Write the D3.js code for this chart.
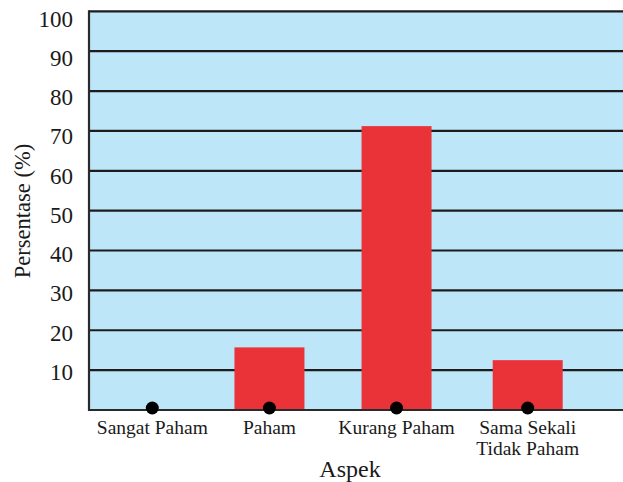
<!DOCTYPE html>
<html>
<head>
<meta charset="utf-8">
<script src="https://cdn.jsdelivr.net/npm/d3@7"></script>
<style>
  html, body { margin: 0; padding: 0; background: #ffffff; }
  svg { display: block; }
  text { font-family: "Liberation Serif", "Times New Roman", serif; fill: #1a1a1a; }
</style>
</head>
<body>
<svg id="chart" width="623" height="482"></svg>
<script>
// ---- data ----
const categories = ["Sangat Paham", "Paham", "Kurang Paham", "Sama Sekali Tidak Paham"];
const categoryLines = [["Sangat Paham"], ["Paham"], ["Kurang Paham"], ["Sama Sekali", "Tidak Paham"]];
const percentages = [0, 15.7, 71.2, 12.5];
const yTicks = [10, 20, 30, 40, 50, 60, 70, 80, 90, 100];
const yTitle = "Persentase (%)";
const xTitle = "Aspek";

// ---- layout ----
const plotL = 89, plotR = 640, plotT = 11.3, plotB = 410;
const svg = d3.select("#chart");

const y = d3.scaleLinear().domain([0, 100]).range([plotB, plotT]);
// tick labels sit slightly below their gridlines in the reference
const yLab = d3.scaleLinear().domain([0, 100]).range([411.3, 18.8]);
// category positions widen slightly toward the right in the reference
const x = d3.scalePow().exponent(1.06).domain([0, categories.length - 1]).range([152.3, 527.7]);
const barW = 70;

// background
svg.append("rect").attr("x", plotL).attr("y", plotT).attr("width", plotR - plotL).attr("height", plotB - plotT)
  .attr("fill", "#bee6f9");

// gridlines
svg.append("g").selectAll("line").data(yTicks).join("line")
  .attr("x1", plotL).attr("x2", plotR)
  .attr("y1", d => y(d)).attr("y2", d => y(d))
  .attr("stroke", "#1c1c1c").attr("stroke-width", 2.2);

// bars
svg.append("g").selectAll("rect").data(percentages).join("rect")
  .attr("x", (d, i) => x(i) - barW / 2)
  .attr("width", barW)
  .attr("y", d => y(d))
  .attr("height", d => y(0) - y(d))
  .attr("fill", "#ea3339");

// axes lines
svg.append("line").attr("x1", plotL).attr("x2", plotR).attr("y1", y(0)).attr("y2", y(0))
  .attr("stroke", "#2a2a2a").attr("stroke-width", 2.2);
svg.append("line").attr("x1", plotL).attr("x2", plotL).attr("y1", plotT - 1).attr("y2", y(0) + 1)
  .attr("stroke", "#2a2a2a").attr("stroke-width", 2.2);

// dots at category positions
svg.append("g").selectAll("circle").data(categories).join("circle")
  .attr("cx", (d, i) => x(i)).attr("cy", 408).attr("r", 6.5)
  .attr("fill", "#000");

// y tick labels via axis
const yAxis = d3.axisLeft(yLab).tickValues(yTicks).tickSize(0).tickPadding(0);
const gy = svg.append("g").attr("transform", `translate(73,0)`).call(yAxis);
gy.select(".domain").remove();
gy.selectAll("text").attr("font-size", 23).attr("font-family", "Liberation Serif, serif").attr("fill", "#1a1a1a");

// category labels
const catG = svg.append("g").selectAll("text").data(categoryLines).join("text")
  .attr("text-anchor", "middle")
  .attr("font-size", 19.5)
  .attr("x", (d, i) => x(i))
  .attr("y", 434);
catG.selectAll("tspan").data(d => d).join("tspan")
  .attr("x", function () { return d3.select(this.parentNode).attr("x"); })
  .attr("dy", (d, j) => j === 0 ? 0 : 21)
  .text(d => d);

// axis titles
svg.append("text").attr("x", 350).attr("y", 476.5).attr("text-anchor", "middle")
  .attr("font-size", 24).text(xTitle);
svg.append("text").attr("transform", "translate(30,211) rotate(-90)").attr("text-anchor", "middle")
  .attr("font-size", 22.5).text(yTitle);
</script>
</body>
</html>
